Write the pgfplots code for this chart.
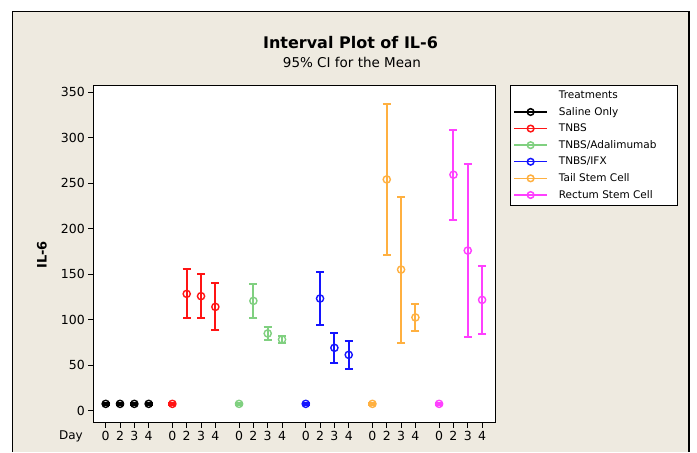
\documentclass[border=0pt]{standalone}
\usepackage{pgfplots}
\pgfplotsset{compat=1.18}
\usepackage{pgfplotstable}
\usepackage{fontspec}
\setmainfont{DejaVu Sans}

\definecolor{bgc}{RGB}{238,234,224}
\definecolor{mgreen}{RGB}{128,208,128}
\definecolor{morange}{RGB}{255,176,64}
\definecolor{mmag}{RGB}{255,64,255}
\definecolor{mred}{RGB}{255,20,20}
\definecolor{mblue}{RGB}{20,20,255}

% x = 4.654*group + day index (days 0,2,3,4)
\pgfplotstableread{
x y e
0 7.5 1.5
1 7.5 1.5
2 7.5 1.5
3 7.5 1.5
}\tabsaline
\pgfplotstableread{
x y e
4.654 7.5 1.5
5.654 128.4 27.0
6.654 125.9 24.0
7.654 114.1 25.8
}\tabtnbs
\pgfplotstableread{
x y e
9.308 7.5 1.5
10.308 120.7 19.0
11.308 84.9 6.7
12.308 78.3 4.0
}\tabadal
\pgfplotstableread{
x y e
13.962 7.5 1.5
14.962 123.3 28.7
15.962 69.1 16.5
16.962 61.4 15.5
}\tabifx
\pgfplotstableread{
x y e
18.616 7.5 1.5
19.616 254.2 83.4
20.616 155.1 80.2
21.616 102.5 15.2
}\tabtail
\pgfplotstableread{
x y e
23.27 7.5 1.5
24.27 259.4 49.4
25.27 176.0 95.2
26.27 121.8 37.1
}\tabrectum

\begin{document}
\begin{tikzpicture}
\fill[white] (0pt,0pt) rectangle (697pt,452pt);
\fill[bgc] (12.7pt,0pt) rectangle (689pt,440.3pt);
\draw[black, line width=1.2pt] (12.7pt,0pt) -- (12.7pt,440.3pt) -- (689pt,440.3pt) -- (689pt,0pt);

\node[anchor=base, font=\bfseries\fontsize{16}{18}\selectfont] at (350.5pt,403.7pt) {Interval Plot of IL-6};
\node[anchor=base, font=\fontsize{13.5}{15}\selectfont] at (352pt,384.7pt) {95\% CI for the Mean};

\begin{axis}[
  at={(93.3pt,29.3pt)}, anchor=south west,
  scale only axis,
  width=401.7pt, height=337.7pt,
  axis background/.style={fill=white},
  xmin=-0.865, xmax=27.17,
  ymin=-13.2, ymax=358,
  ytick={0,50,...,350},
  xtick={0,1,2,3,4.654,5.654,6.654,7.654,9.308,10.308,11.308,12.308,13.962,14.962,15.962,16.962,18.616,19.616,20.616,21.616,23.27,24.27,25.27,26.27},
  xticklabels={0,2,3,4,0,2,3,4,0,2,3,4,0,2,3,4,0,2,3,4,0,2,3,4},
  xtick pos=bottom, ytick pos=left,
  tick align=outside,
  major tick length=5pt,
  tick style={black, line width=0.8pt},
  axis line style={line width=0.8pt},
  /pgf/number format/assume math mode=true,
  ticklabel style={font=\fontsize{12.5}{14}\selectfont},
  ylabel={\textbf{IL-6}},
  ylabel style={at={(axis description cs:-0.128,0.497)}, anchor=center, font=\fontsize{13}{15}\selectfont},
  legend style={at={(1.0373,1)}, anchor=north west, draw=black, fill=white,
    font=\fontsize{10.5}{12}\selectfont, inner xsep=3pt, inner ysep=3.5pt,
    row sep=3.2pt, column sep=9pt, line width=0.8pt},
  legend cell align=left,
  legend image code/.code={\draw[mark repeat=2,mark phase=2,#1] plot coordinates {(0pt,0pt) (16.5pt,0pt) (33pt,0pt)};},
]
\addlegendimage{empty legend}
\addlegendimage{black, line width=1.5pt, mark=o, mark size=3.3pt}
\addlegendimage{mred, line width=1.5pt, mark=o, mark size=3.3pt}
\addlegendimage{mgreen, line width=1.5pt, mark=o, mark size=3.3pt}
\addlegendimage{mblue, line width=1.5pt, mark=o, mark size=3.3pt}
\addlegendimage{morange, line width=1.5pt, mark=o, mark size=3.3pt}
\addlegendimage{mmag, line width=1.5pt, mark=o, mark size=3.3pt}
\legend{\makebox[114pt][l]{Treatments}, Saline Only, TNBS, TNBS/Adalimumab, TNBS/IFX, Tail Stem Cell, Rectum Stem Cell}

\addplot[black, forget plot, only marks, mark=o, mark size=3.6pt, mark options={line width=1.4pt},
  error bars/.cd, y dir=both, y explicit, error bar style={line width=2pt, black},
  error mark options={rotate=90, line width=2pt, mark size=4pt, black}]
  table[x=x, y=y, y error=e] {\tabsaline};
\addplot[mred, forget plot, only marks, mark=o, mark size=3.6pt, mark options={line width=1.4pt},
  error bars/.cd, y dir=both, y explicit, error bar style={line width=2pt, mred},
  error mark options={rotate=90, line width=2pt, mark size=4pt, mred}]
  table[x=x, y=y, y error=e] {\tabtnbs};
\addplot[mgreen, forget plot, only marks, mark=o, mark size=3.6pt, mark options={line width=1.4pt},
  error bars/.cd, y dir=both, y explicit, error bar style={line width=2pt, mgreen},
  error mark options={rotate=90, line width=2pt, mark size=4pt, mgreen}]
  table[x=x, y=y, y error=e] {\tabadal};
\addplot[mblue, forget plot, only marks, mark=o, mark size=3.6pt, mark options={line width=1.4pt},
  error bars/.cd, y dir=both, y explicit, error bar style={line width=2pt, mblue},
  error mark options={rotate=90, line width=2pt, mark size=4pt, mblue}]
  table[x=x, y=y, y error=e] {\tabifx};
\addplot[morange, forget plot, only marks, mark=o, mark size=3.6pt, mark options={line width=1.4pt},
  error bars/.cd, y dir=both, y explicit, error bar style={line width=2pt, morange},
  error mark options={rotate=90, line width=2pt, mark size=4pt, morange}]
  table[x=x, y=y, y error=e] {\tabtail};
\addplot[mmag, forget plot, only marks, mark=o, mark size=3.6pt, mark options={line width=1.4pt},
  error bars/.cd, y dir=both, y explicit, error bar style={line width=2pt, mmag},
  error mark options={rotate=90, line width=2pt, mark size=4pt, mmag}]
  table[x=x, y=y, y error=e] {\tabrectum};
\end{axis}

\node[font=\fontsize{12}{14}\selectfont] at (71pt,15.7pt) {Day};
\end{tikzpicture}
\end{document}
